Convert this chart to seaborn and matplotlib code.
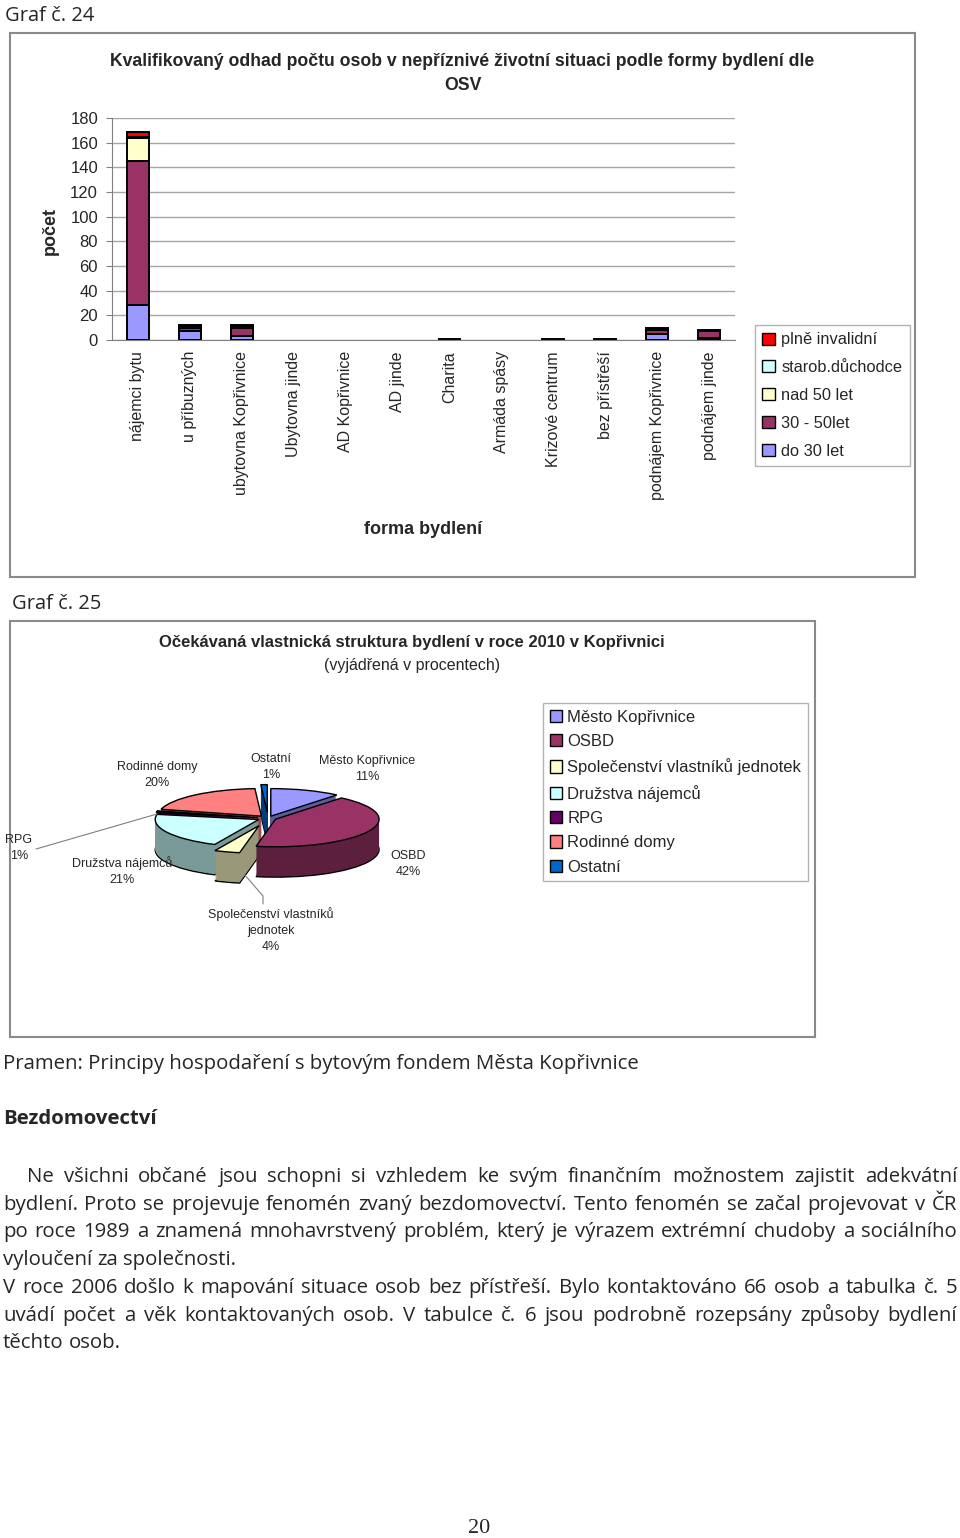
import numpy as np
import pandas as pd
import matplotlib
matplotlib.use("Agg")
import matplotlib.pyplot as plt
import seaborn as sns
from matplotlib.patches import Patch, Rectangle
from matplotlib.lines import Line2D

# ---------------- data ----------------
categories = ["nájemci bytu", "u příbuzných", "ubytovna Kopřivnice", "Ubytovna jinde",
              "AD Kopřivnice", "AD jinde", "Charita", "Armáda spásy", "Krizové centrum",
              "bez přístřeší", "podnájem Kopřivnice", "podnájem jinde"]
groups = ["plně invalidní", "starob.důchodce", "nad 50 let", "30 - 50let", "do 30 let"]
plne_invalidni = [4, 1, 1, 0, 0, 0, 0, 0, 0, 0, 1, 1]
starob_duchodce = [1, 0, 0, 0, 0, 0, 0, 0, 0, 0, 0, 0]
nad_50 = [19, 1, 1, 0, 0, 0, 0, 0, 0, 0, 1, 0]
let_30_50 = [117, 3, 7, 0, 0, 0, 0, 0, 0, 0, 3, 5]
do_30 = [28, 7, 3, 0, 0, 0, 1, 0, 1, 1, 5, 2]
y_ticks = [0, 20, 40, 60, 80, 100, 120, 140, 160, 180]

pie_labels = ["Město Kopřivnice", "OSBD", "Společenství vlastníků jednotek",
              "Družstva nájemců", "RPG", "Rodinné domy", "Ostatní"]
pie_values = [11, 42, 4, 21, 1, 20, 1]

body_lines = [
    "Ne všichni občané jsou schopni si vzhledem ke svým finančním možnostem zajistit adekvátní",
    "bydlení. Proto se projevuje fenomén zvaný bezdomovectví. Tento fenomén se začal projevovat v ČR",
    "po roce 1989 a znamená mnohavrstvený problém, který je výrazem extrémní chudoby a sociálního",
    "vyloučení za společnosti.",
    "V roce 2006 došlo k mapování situace osob bez přístřeší. Bylo kontaktováno 66 osob a tabulka č. 5",
    "uvádí počet a věk kontaktovaných osob.  V tabulce č. 6 jsou podrobně rozepsány způsoby bydlení",
    "těchto osob.",
]

# ---------------- style ----------------
sns.set_style("white")
plt.rcParams["font.family"] = ["Liberation Sans", "DejaVu Sans"]

W, H = 960, 1538
fig = plt.figure(figsize=(W / 100, H / 100), dpi=100)
fig.patch.set_facecolor("white")


def fx(x):
    return x / W


def fy(y):
    return 1 - y / H


BODY = ["Open Sans", "DejaVu Sans"]

# ---------------- boxes ----------------
for (x0, y0, x1, y1) in [(10, 33, 915, 577), (10, 621, 815, 1037)]:
    fig.patches.append(Rectangle((fx(x0), fy(y1)), fx(x1) - fx(x0), fy(y0) - fy(y1),
                                 transform=fig.transFigure, fill=False,
                                 edgecolor="#8a8a8a", linewidth=1.5))

fig.text(fx(5), fy(21), "Graf č. 24", family=BODY, fontsize=14.5, va="baseline", ha="left")
fig.text(fx(12), fy(609), "Graf č. 25", family=BODY, fontsize=14.5, va="baseline", ha="left")

# ---------------- bar chart ----------------
bar_colors = {"plně invalidní": "#FF0000", "starob.důchodce": "#CCFFFF",
              "nad 50 let": "#FFFFCC", "30 - 50let": "#993366", "do 30 let": "#9999FF"}
series = {"plně invalidní": plne_invalidni, "starob.důchodce": starob_duchodce,
          "nad 50 let": nad_50, "30 - 50let": let_30_50, "do 30 let": do_30}
rows = []
for g in groups:
    for c, v in zip(categories, series[g]):
        rows.append({"forma": c, "skupina": g, "pocet": v})
df = pd.DataFrame(rows)
df["forma"] = pd.Categorical(df["forma"], categories=categories, ordered=True)

ax = fig.add_axes([fx(112), fy(340), fx(735) - fx(112), fy(118) - fy(340)])
sns.histplot(data=df, x="forma", hue="skupina", weights="pocet", multiple="stack",
             discrete=True, shrink=0.42, hue_order=groups, palette=bar_colors,
             edgecolor="black", linewidth=1.4, alpha=1, legend=False, ax=ax)
for p in ax.patches:
    if p.get_height() == 0:
        p.set_visible(False)

ax.set_ylim(0, 180)
ax.set_xlim(-0.5, len(categories) - 0.5)
ax.set_yticks(y_ticks)
ax.set_yticklabels([str(t) for t in y_ticks], fontsize=12)
ax.set_xticks(range(len(categories)))
ax.set_xticklabels(categories, rotation=90, fontsize=11.5, va="top", ha="center")
ax.set_xticks(np.arange(-0.5, len(categories)), minor=True)
ax.tick_params(axis="x", which="major", length=0, pad=8)
ax.tick_params(axis="x", which="minor", length=4, color="#808080")
ax.tick_params(axis="y", length=4, color="#808080", pad=6, left=True)
ax.yaxis.grid(True, color="#a6a6a6", linewidth=1)
ax.set_axisbelow(True)
for s in ["top", "right"]:
    ax.spines[s].set_visible(False)
for s in ["left", "bottom"]:
    ax.spines[s].set_color("#808080")
ax.set_xlabel("")
ax.set_ylabel("")

fig.text(fx(462), fy(62), "Kvalifikovaný odhad počtu osob v nepříznivé životní situaci podle formy bydlení dle",
         ha="center", va="center", fontsize=12.7, fontweight="bold")
fig.text(fx(463), fy(86), "OSV", ha="center", va="center", fontsize=12.7, fontweight="bold")
fig.text(fx(50), fy(231), "počet", ha="center", va="center", rotation=90, fontsize=13, fontweight="bold")
fig.text(fx(423), fy(529), "forma bydlení", ha="center", va="center", fontsize=13, fontweight="bold")

handles1 = [Patch(facecolor=bar_colors[g], edgecolor="black", linewidth=1) for g in groups]
leg1 = fig.legend(handles1, groups, loc="upper left", bbox_to_anchor=(fx(755), fy(325)),
                  fontsize=11.8, frameon=True, fancybox=False, edgecolor="#a0a0a0",
                  handlelength=0.75, handleheight=0.75, handletextpad=0.4,
                  labelspacing=0.78, borderpad=0.45, borderaxespad=0)
leg1.get_frame().set_linewidth(1)

# ---------------- pie chart ----------------
pie_colors = ["#9999FF", "#993366", "#FFFFCC", "#CCFFFF", "#660066", "#FF8080", "#0066CC"]
side_colors = [tuple(np.array(matplotlib.colors.to_rgb(c)) * 0.6) for c in pie_colors]
explode = [0.08, 0.08, 0.28, 0.1, 0.1, 0.1, 0.22]

pax = fig.add_axes([fx(123), fy(890), fx(413) - fx(123), fy(770) - fy(890)])
depth = 1.1
nl = 34
for i in range(nl, 0, -1):
    d = depth * i / nl
    pax.pie(pie_values, colors=side_colors, startangle=90, counterclock=False,
            explode=explode, center=(0, -d),
            wedgeprops=dict(linewidth=1.0 if i == nl else 0, edgecolor="black"))
pax.pie(pie_values, colors=pie_colors, startangle=90, counterclock=False,
        explode=explode, center=(0, 0), wedgeprops=dict(linewidth=1.0, edgecolor="black"))
pax.set_aspect("auto")
pax.set_xlim(-1.4, 1.4)
pax.set_ylim(-2.6, 1.75)
pax.axis("off")

pl_kw = dict(ha="center", va="center", fontsize=9, linespacing=1.45)
fig.text(fx(157), fy(775), "Rodinné domy\n20%", **pl_kw)
fig.text(fx(271), fy(767), "Ostatní\n1%", **pl_kw)
fig.text(fx(367), fy(769), "Město Kopřivnice\n11%", **pl_kw)
fig.text(fx(19), fy(848), "RPG\n1%", **pl_kw)
fig.text(fx(122), fy(871), "Družstva nájemců\n21%", **pl_kw)
fig.text(fx(408), fy(864), "OSBD\n42%", **pl_kw)
fig.text(fx(271), fy(930), "Společenství vlastníků\njednotek\n4%", **pl_kw)
fig.add_artist(Line2D([fx(36), fx(157)], [fy(849), fy(814)], color="#808080", linewidth=0.8))
fig.add_artist(Line2D([fx(263), fx(263), fx(244)], [fy(904), fy(896), fy(874)],
                      color="#808080", linewidth=0.8))

fig.text(fx(412), fy(643), "Očekávaná vlastnická struktura bydlení v roce 2010 v Kopřivnici",
         ha="center", va="center", fontsize=12, fontweight="bold")
fig.text(fx(412), fy(665), "(vyjádřená v procentech)", ha="center", va="center", fontsize=11.5)

handles2 = [Patch(facecolor=c, edgecolor="black", linewidth=1) for c in pie_colors]
leg2 = fig.legend(handles2, pie_labels, loc="upper left", bbox_to_anchor=(fx(543), fy(703)),
                  fontsize=12, frameon=True, fancybox=False, edgecolor="#a0a0a0",
                  handlelength=0.75, handleheight=0.75, handletextpad=0.3,
                  labelspacing=0.56, borderpad=0.4, borderaxespad=0)
leg2.get_frame().set_linewidth(1)

# ---------------- body text ----------------
renderer = fig.canvas.get_renderer()
probe = fig.text(0, 0, "Pramen: Principy hospodaření s bytovým fondem Města Kopřivnice",
                 family=BODY, fontsize=14)
wp = probe.get_window_extent(renderer).width
body_size = 14 * 641 / wp
probe.set_fontsize(body_size)
probe.set_position((fx(3), fy(1069)))
probe.set_va("baseline")

fig.text(fx(3), fy(1124), "Bezdomovectví", family=BODY, fontsize=body_size,
         fontweight="bold", va="baseline")


def justify(text, x0, x1, yb, just=True):
    words = text.split()
    ts = [fig.text(0, 0, w, family=BODY, fontsize=body_size, va="baseline") for w in words]
    ws = [t.get_window_extent(renderer).width for t in ts]
    if just and len(words) > 1:
        gap = (x1 - x0 - sum(ws)) / (len(words) - 1)
    else:
        sp = fig.text(0, 0, "a a", family=BODY, fontsize=body_size)
        sa = fig.text(0, 0, "aa", family=BODY, fontsize=body_size)
        gap = sp.get_window_extent(renderer).width - sa.get_window_extent(renderer).width
        sp.remove()
        sa.remove()
    x = x0
    for t, w in zip(ts, ws):
        t.set_position((fx(x), fy(yb)))
        x += w + gap


baselines = [1182, 1210, 1237, 1265, 1293, 1321, 1348]
starts = [27, 3, 3, 3, 3, 3, 3]
justified = [True, True, True, False, True, True, False]
for line, yb, xs, j in zip(body_lines, baselines, starts, justified):
    justify(line, xs, 957, yb, j)

fig.text(fx(479), fy(1533), "20", family=["Liberation Serif", "DejaVu Serif"],
         fontsize=16, ha="center", va="baseline")

fig.savefig("out.png", dpi=100)
